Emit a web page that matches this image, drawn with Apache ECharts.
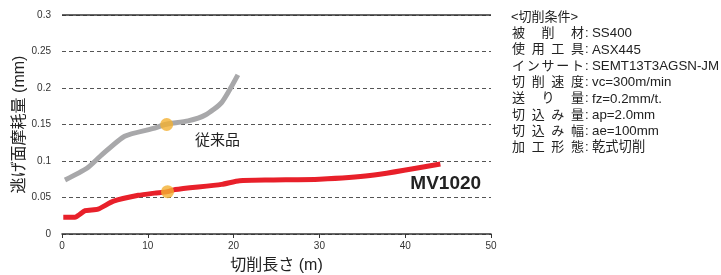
<!DOCTYPE html>
<html lang="ja">
  <head>
    <meta charset="UTF-8" />
    <title>逃げ面摩耗量</title>
    <script src="https://cdn.jsdelivr.net/npm/echarts@6/dist/echarts.min.js"></script>
    <style>
      html, body { margin: 0; padding: 0; background: #fff; }
      .echarts { width: 721px; height: 275px; }
    </style>
  </head>
  <body>
    <div class="echarts"></div>
    <script>
      // 従来品 (gray) [切削長さ m, 摩耗量 mm]
      const conventional = [
        [0.35, 0.074], [2.9, 0.090], [4.6, 0.108], [7.3, 0.134], [10.8, 0.145],
        [12.0, 0.150], [14.7, 0.155], [16.7, 0.163], [18.6, 0.180], [20.5, 0.218]
      ]
      // MV1020 (red)
      const mv1020 = [
        [0.15, 0.023], [1.5, 0.023], [2.7, 0.032], [4.2, 0.034], [6.0, 0.045],
        [8.9, 0.053], [10.8, 0.056], [12.3, 0.058], [13.2, 0.061], [18.6, 0.068],
        [20.7, 0.073], [24.4, 0.074], [30.0, 0.075], [35.9, 0.080], [44.1, 0.096]
      ]
      // 比較点
      const markers = [[12.2, 0.150], [12.3, 0.058]]

      // 切削条件
      const condTitle = '<切削条件>'
      const condLabels = ['被削材', '使用工具', 'インサート', '切削速度', '送り量', '切込み量', '切込み幅', '加工形態']
      const condValues = ['SS400', 'ASX445', 'SEMT13T3AGSN-JM', 'vc=300m/min', 'fz=0.2mm/t.', 'ap=2.0mm', 'ae=100mm', '乾式切削']

      const fontJa = '"Liberation Sans", "Noto Sans CJK JP", sans-serif'
      const myCharts = echarts.init(document.querySelector('.echarts'))

      // 条件テキスト（均等割付）
      const graphics = []
      graphics.push({
        type: 'text', left: 511, top: 11,
        style: { text: condTitle, font: '13px ' + fontJa, fill: '#222' }
      })
      condLabels.forEach((lab, r) => {
        const y = 27 + r * 16.3
        const chars = lab.split('')
        const step = (571 - 512) / (chars.length - 1)
        chars.forEach((c, i) => {
          graphics.push({
            type: 'text', left: 512 + i * step, top: y,
            style: { text: c, font: '13px ' + fontJa, fill: '#222' }
          })
        })
        graphics.push({
          type: 'text', left: 585, top: y,
          style: { text: ':', font: '13px ' + fontJa, fill: '#222' }
        })
        graphics.push({
          type: 'text', left: 592, top: y,
          style: { text: condValues[r], font: '13.3px ' + fontJa, fill: '#222' }
        })
      })

      const option = {
        animation: false,
        grid: { left: 62, right: 230, top: 15, bottom: 41, outerBoundsMode: 'none' },
        xAxis: {
          type: 'value', min: 0, max: 50, interval: 10,
          name: '切削長さ (m)', nameLocation: 'middle', nameGap: 24, nameMoveOverlap: false,
          nameTextStyle: { fontSize: 16, color: '#222', fontFamily: fontJa },
          axisLine: { lineStyle: { color: '#333', width: 1.5 } },
          axisTick: { show: true, length: 4, lineStyle: { color: '#333' } },
          axisLabel: { fontSize: 10, color: '#333', margin: 7, fontFamily: fontJa },
          splitLine: { show: false }
        },
        yAxis: {
          type: 'value', min: 0, max: 0.3, interval: 0.05,
          name: '逃げ面摩耗量 (mm)', nameLocation: 'middle', nameGap: 34, nameRotate: 90,
          nameMoveOverlap: false,
          nameTextStyle: { fontSize: 16, color: '#222', fontFamily: fontJa },
          axisLine: { show: false },
          axisTick: { show: false },
          axisLabel: { fontSize: 10, color: '#333', margin: 11, fontFamily: fontJa },
          splitLine: { lineStyle: { color: '#555', type: [4, 3], width: 1 } }
        },
        series: [
          {
            type: 'line', name: '従来品', data: conventional, smooth: 0.2,
            symbol: 'none', lineStyle: { color: '#a8a8aa', width: 5 },
            markLine: {
              silent: true, symbol: 'none', label: { show: false },
              lineStyle: { color: '#333', type: 'solid', width: 1.5 },
              data: [{ yAxis: 0.3 }]
            }
          },
          {
            type: 'line', name: 'MV1020', data: mv1020, smooth: 0.2,
            symbol: 'none', lineStyle: { color: '#e8202a', width: 5 }
          },
          {
            type: 'scatter', data: markers, symbolSize: 13,
            itemStyle: { color: '#f2b032' }, z: 5
          }
        ],
        graphic: graphics
      }
      myCharts.setOption(option)

      // 曲線ラベル（データ座標で配置）
      const p1 = myCharts.convertToPixel({ gridIndex: 0 }, [15.5, 0.127])
      const p2 = myCharts.convertToPixel({ gridIndex: 0 }, [40.6, 0.069])
      myCharts.setOption({
        graphic: graphics.concat([
          { type: 'text', x: p1[0], y: p1[1], style: { text: '従来品', font: '15px ' + fontJa, fill: '#222', verticalAlign: 'middle' } },
          { type: 'text', x: p2[0], y: p2[1], style: { text: 'MV1020', font: 'bold 19px "Liberation Sans", sans-serif', fill: '#222', verticalAlign: 'middle' } }
        ])
      })
    </script>
  </body>
</html>
